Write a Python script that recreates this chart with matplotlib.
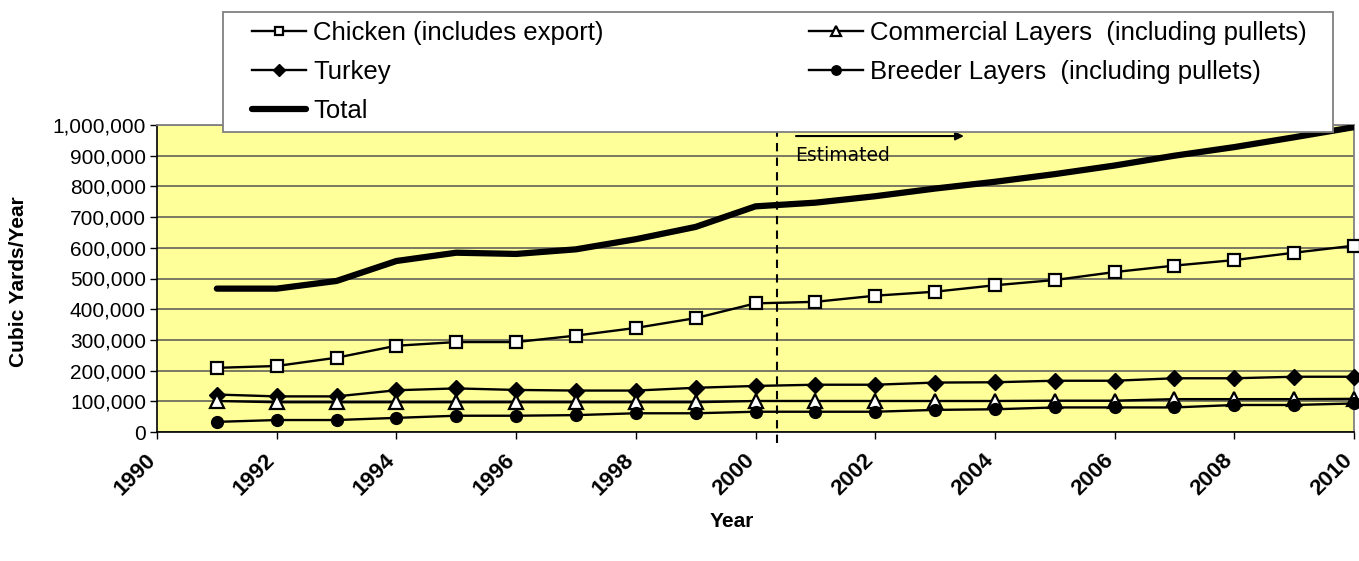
import matplotlib
matplotlib.use('Agg')
import matplotlib.pyplot as plt
from matplotlib.patches import Rectangle
from matplotlib.ticker import FuncFormatter, MultipleLocator
import matplotlib.transforms as mtransforms

plt.rcParams['font.family'] = ['Liberation Sans', 'DejaVu Sans']

years = list(range(1991, 2011))
chicken = [209000, 215000, 242000, 281000, 293000, 293000, 314000, 339000, 371000, 419000,
           424000, 444000, 457000, 478000, 495000, 521000, 542000, 560000, 584000, 607000]
turkey = [122000, 116000, 116000, 136000, 142000, 137000, 135000, 135000, 144000, 150000,
          154000, 154000, 161000, 162000, 167000, 167000, 175000, 175000, 180000, 180000]
commercial = [101000, 97000, 97000, 97000, 97000, 97000, 97000, 97000, 97000, 101000,
              101000, 101000, 101000, 101000, 102000, 102000, 107000, 107000, 107000, 108000]
breeder = [33000, 39000, 39000, 46000, 53000, 53000, 55000, 61000, 61000, 66000,
           66000, 66000, 72000, 74000, 80000, 80000, 80000, 88000, 88000, 93000]
total = [467000, 467000, 492000, 557000, 584000, 580000, 595000, 628000, 668000, 735000,
         747000, 768000, 793000, 815000, 840000, 868000, 900000, 928000, 960000, 993000]

labels = ['Chicken (includes export)', 'Turkey', 'Total',
          'Commercial Layers  (including pullets)', 'Breeder Layers  (including pullets)']

estimate_start = 2000.36

W, H = 1359, 561
fig = plt.figure(figsize=(W / 100, H / 100), dpi=100)
ax = fig.add_axes([157 / W, 1 - 432 / H, (1354 - 157) / W, (432 - 125) / H])
ax.set_facecolor('#FFFF99')

ax.yaxis.grid(True, color='#6e6e5e', lw=1.3)
ax.set_axisbelow(True)

kw = dict(color='black', lw=1.7, clip_on=False, zorder=3)
l_ch, = ax.plot(years, chicken, marker='s', ms=8, mfc='white', mec='black', mew=1.6, **kw)
l_tu, = ax.plot(years, turkey, marker='D', ms=8, mfc='black', mec='black', **kw)
l_co, = ax.plot(years, commercial, marker='^', ms=9.5, mfc='white', mec='black', mew=1.6, **kw)
l_br, = ax.plot(years, breeder, marker='o', ms=8.5, mfc='black', mec='black', **kw)
l_to, = ax.plot(years, total, color='black', lw=4.5, solid_capstyle='round',
                solid_joinstyle='round', zorder=4)

ax.set_xlim(1990, 2010)
ax.set_ylim(0, 1000000)
ax.xaxis.set_major_locator(MultipleLocator(2))
ax.yaxis.set_major_locator(MultipleLocator(100000))
ax.yaxis.set_major_formatter(FuncFormatter(lambda v, p: f'{int(v):,}'))

for s in ['top', 'right']:
    ax.spines[s].set_color('#808080')
    ax.spines[s].set_linewidth(1.3)
for s in ['left', 'bottom']:
    ax.spines[s].set_color('black')
    ax.spines[s].set_linewidth(1.2)

ax.tick_params(axis='y', direction='out', length=5, width=1, labelsize=15, pad=3)
ax.tick_params(axis='x', direction='out', length=5, width=1, labelsize=16, pad=8)
shift = mtransforms.ScaledTranslation(-0.12, 0.0, fig.dpi_scale_trans)
for t in ax.get_xticklabels():
    t.set_rotation(45)
    t.set_ha('right')
    t.set_va('top')
    t.set_rotation_mode('anchor')
    t.set_fontweight('bold')
    t.set_transform(t.get_transform() + shift)

ax.set_ylabel('Cubic Yards/Year', fontsize=15, fontweight='bold')
ax.yaxis.set_label_coords(-0.108, 0.49)
ax.set_xlabel('Year', fontsize=15, fontweight='bold')
ax.xaxis.set_label_coords(0.48, -0.26)

# estimated divider + arrow
trans = mtransforms.blended_transform_factory(ax.transData, ax.transAxes)
ax.plot([estimate_start, estimate_start], [-0.036, 1.016], transform=trans,
        color='black', lw=1.5, ls=(0, (4, 3)), clip_on=False, zorder=5)
ax.annotate('', xy=(2003.53, 964000), xytext=(2000.63, 964000),
            arrowprops=dict(arrowstyle='-|>', color='black', lw=1.5, mutation_scale=12))
ax.text(2000.67, 902000, 'Estimated', fontsize=13.5, family='DejaVu Sans', va='center', ha='left')

# legend box
fig.patches.append(Rectangle((223 / W, 1 - 132 / H), (1333 - 223) / W, 120 / H,
                             transform=fig.transFigure, fc='white', ec='#808080', lw=1.3, zorder=6))
fig.legend([l_ch, l_tu, l_to, l_co, l_br], labels, loc='upper left',
           bbox_to_anchor=(252 / W, 1 - 21 / H), bbox_transform=fig.transFigure,
           ncol=2, frameon=False, borderaxespad=0, borderpad=0, fontsize=18.5,
           handlelength=2.1, handletextpad=0.27, columnspacing=8.0, labelspacing=0.58,
           markerscale=0.8).set_zorder(7)

fig.savefig('out.png', dpi=100)
